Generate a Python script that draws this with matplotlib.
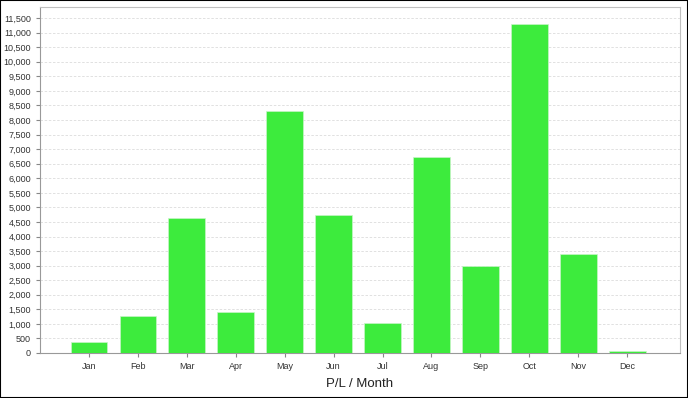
import numpy as np
import matplotlib.pyplot as plt
from matplotlib.ticker import MultipleLocator, FuncFormatter

plt.rcParams['font.family'] = ['Liberation Sans', 'DejaVu Sans']

months = ['Jan', 'Feb', 'Mar', 'Apr', 'May', 'Jun', 'Jul', 'Aug', 'Sep', 'Oct', 'Nov', 'Dec']
pl = [380, 1270, 4620, 1400, 8300, 4730, 1020, 6720, 3000, 11310, 3400, 60]

fig = plt.figure(figsize=(6.88, 3.98), dpi=100)
ax = fig.add_axes([40/688, 45/398, 640/688, 346/398])

x = np.arange(len(months))
ax.bar(x, pl, width=0.75, color='#3deb3d', edgecolor='#c8f5c8', linewidth=0.5, zorder=3)

ax.set_xlim(-1, 12.08)
ax.set_ylim(0, 11880)
ax.yaxis.set_major_locator(MultipleLocator(500))
ax.yaxis.set_major_formatter(FuncFormatter(lambda v, p: f'{int(v):,}'))
ax.set_xticks(x)
ax.set_xticklabels(months)
ax.tick_params(labelsize=6.5, colors='#888888', labelcolor='#333333', length=3, width=0.8)
ax.grid(axis='y', color='#dcdcdc', linestyle=(0, (3, 2)), linewidth=0.6, zorder=0)

for s in ['left', 'bottom']:
    ax.spines[s].set_color('#999999')
for s in ['top', 'right']:
    ax.spines[s].set_color('#c0c0c0')

ax.set_xlabel('P/L / Month', fontsize=9.5, color='#222222', labelpad=5)

fig.patches.append(plt.Rectangle((0, 0), 1, 1, transform=fig.transFigure,
                                 fill=False, edgecolor='black', linewidth=1.5))

fig.savefig('out.png', dpi=100)
